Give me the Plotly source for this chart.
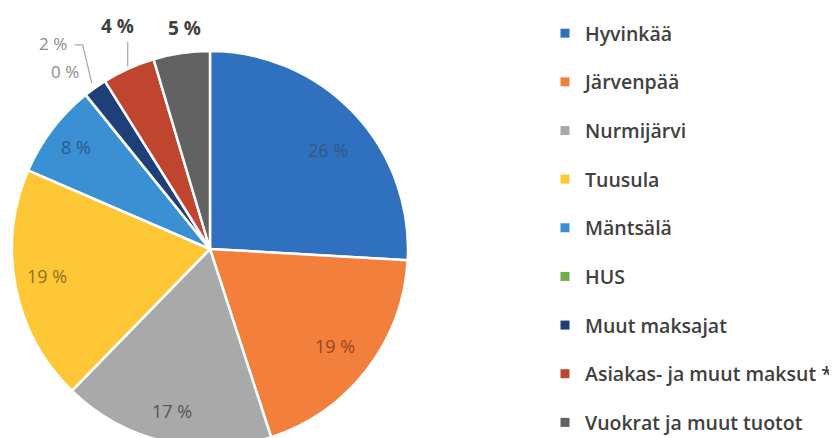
import math
import plotly.graph_objects as go

# ---- data ----
categories = ["Hyvinkää", "Järvenpää", "Nurmijärvi", "Tuusula", "Mäntsälä",
              "HUS", "Muut maksajat", "Asiakas- ja muut maksut *", "Vuokrat ja muut tuotot"]
shares = [25.9, 19.1, 17.3, 19.2, 7.7, 0.0, 1.9, 4.3, 4.6]
colors = ["#2F70BF", "#F37F3D", "#A9A9A9", "#FDC736", "#3A90D2",
          "#70AD47", "#1F3F78", "#C0452E", "#626262"]

# ---- label styles (not data) ----
label_mode = ["in", "in", "in", "in", "in", "out_light", "out_light", "out_bold", "out_bold"]
label_r = [0.78, 0.80, 0.84, 0.84, 0.85, 1.15, 1.03, 1.01, 1.13]
label_dx = [6, 0, 0, 0, 0, -2, 0, 0, 7]
label_dy = [7, 0, 0, -5, 0, 0, 0, 0, 0]
label_color = ["#34568A", "#9A4520", "#555555", "#94701A", "#2B5C8A",
               "#8C8C8C", "#8C8C8C", "#404040", "#404040"]
leaders = {6: [(0, 0), (-9, -38), (-17, -38)], 7: [(0, 0), (0, -25)]}

# The page body has an 8px margin: work in screen pixels via axis ranges.
OFF = 8
SW, SH = 837, 470          # figure extends a little below the visible window
W, H = SW - OFF, SH - OFF
cx, cy, R = 210, 249, 198  # pie center / radius in screen pixels

fig = go.Figure()
fig.add_trace(go.Pie(
    labels=categories, values=shares, sort=False, direction="clockwise",
    rotation=0, marker=dict(colors=colors, line=dict(color="white", width=2.5)),
    textinfo="none", hoverinfo="label+percent", showlegend=False,
    domain=dict(x=[(cx - R - OFF) / W, (cx + R - OFF) / W],
                y=[(SH - cy - R) / H, (SH - cy + R) / H]),
))

# legend entries
for cat, col in zip(categories, colors):
    fig.add_trace(go.Scatter(
        x=[None], y=[None], mode="markers", name=cat, legendgroup=cat,
        marker=dict(symbol="square", size=9, color=col), hoverinfo="skip"))

total = sum(shares)
annotations = []
shapes = []
cum = 0.0
for i, v in enumerate(shares):
    mid = (cum + v / 2) / total * 2 * math.pi
    cum += v
    r = label_r[i] * R
    px = cx + r * math.sin(mid) + label_dx[i]
    py = cy - r * math.cos(mid) + label_dy[i]
    txt = f"{v:.0f} %"
    mode = label_mode[i]
    if mode == "in":
        font = dict(family="Open Sans", size=18, color=label_color[i])
        annotations.append(dict(x=px, y=py, xref="x", yref="y", text=txt,
                                showarrow=False, font=font))
    elif i in leaders:
        pts = [(px + dx, py + dy) for dx, dy in leaders[i]]
        path = "M " + " L ".join(f"{a},{b}" for a, b in pts)
        shapes.append(dict(type="path", path=path, xref="x", yref="y",
                           line=dict(color="#A6A6A6", width=1.2)))
        ex, ey = pts[-1]
        if mode == "out_light":
            annotations.append(dict(x=ex - 6, y=ey - 1, xref="x", yref="y", text=txt,
                                    showarrow=False, xanchor="right",
                                    font=dict(family="Open Sans", size=17, color=label_color[i])))
        else:
            annotations.append(dict(x=ex - 10, y=ey - 1, xref="x", yref="y", text=txt,
                                    showarrow=False, yanchor="bottom",
                                    font=dict(family="Open Sans", size=19, color=label_color[i],
                                              weight="bold")))
    else:
        bold = mode == "out_bold"
        annotations.append(dict(x=px, y=py, xref="x", yref="y", text=txt, showarrow=False,
                                font=dict(family="Open Sans", size=19 if bold else 17,
                                          color=label_color[i],
                                          weight="bold" if bold else "normal")))

fig.update_layout(
    width=W, height=H, margin=dict(l=0, r=0, t=0, b=0, autoexpand=False),
    paper_bgcolor="white", plot_bgcolor="white",
    xaxis=dict(range=[OFF, SW], visible=False, fixedrange=True),
    yaxis=dict(range=[SH, OFF], visible=False, fixedrange=True),
    annotations=annotations, shapes=shapes,
    showlegend=True,
    legend=dict(x=(545 - OFF) / W, xanchor="left", y=1 - (14 - OFF) / H, yanchor="top",
                font=dict(family="Open Sans", size=19.5, color="#404040", weight=600),
                tracegroupgap=20.3, bgcolor="rgba(0,0,0,0)"),
)

fig.write_html("out.html")
